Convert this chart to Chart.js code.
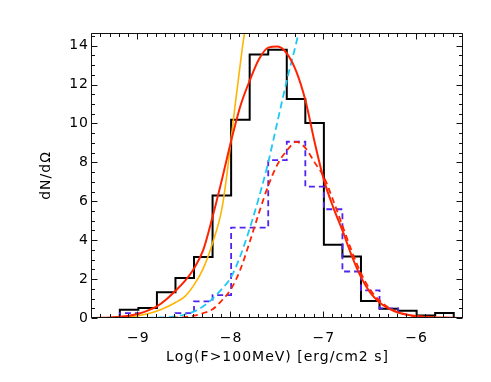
<!DOCTYPE html>
<html><head><meta charset="utf-8">
<script src="https://cdn.jsdelivr.net/npm/chart.js@4/dist/chart.umd.min.js"></script>
<style>html,body{margin:0;padding:0;background:#fff}</style>
</head><body>
<canvas id="c" width="491" height="382" style="display:block;width:491px;height:382px"></canvas>
<script>
// ---- data ----
const allEdges = [-9.2,-9.0,-8.8,-8.6,-8.4,-8.2,-8.0,-7.8,-7.6,-7.4,-7.2,-7.0,-6.8,-6.6,-6.4,-6.2,-6.0,-5.8,-5.6];
const allHist  = [0.42,0.52,1.32,2.06,3.14,6.3,10.19,13.55,13.79,11.26,10.03,3.77,3.16,0.87,0.48,0.37,0.13,0.26];
const subEdges = [-9.2,-9.0,-8.8,-8.6,-8.4,-8.2,-8.0,-7.8,-7.6,-7.4,-7.2,-7.0,-6.8,-6.6,-6.4,-6.2,-6.0];
const subHist  = [0.25,0,0,0.25,0.85,1.18,4.65,4.65,8.12,9.06,6.75,5.59,2.39,1.42,0.49,0];

const fitX = [-9.5,-9.4,-9.3,-9.2,-9.1,-9.0,-8.9,-8.8,-8.7,-8.6,-8.5,-8.4,-8.3,-8.2,-8.1,-8.0,-7.9,-7.8,-7.7,-7.6,-7.5,-7.4,-7.3,-7.2,-7.1,-7.0,-6.9,-6.8,-6.7,-6.6,-6.5,-6.4,-6.3,-6.2,-6.1,-6.0,-5.9,-5.8,-5.7,-5.6,-5.5];
const fitY = [0,0.01,0.03,0.06,0.12,0.22,0.38,0.6,0.95,1.4,1.9,2.55,3.5,5.2,7.1,9.1,10.9,12.2,13.3,13.9,13.95,13.6,12.7,11.2,9.05,7.1,5.7,4.5,3.2,2.1,1.3,0.8,0.48,0.28,0.17,0.1,0.06,0.03,0.02,0.01,0];

const subFitX = [-9.5,-9.0,-8.6,-8.5,-8.4,-8.3,-8.2,-8.1,-8.0,-7.9,-7.8,-7.7,-7.6,-7.5,-7.4,-7.3,-7.2,-7.1,-7.0,-6.9,-6.8,-6.7,-6.6,-6.5,-6.4,-6.3,-6.2,-6.1,-6.0,-5.8,-5.5];
const subFitY = [0,0,0.02,0.05,0.12,0.25,0.45,0.9,1.5,2.5,3.9,5.4,6.8,7.9,8.6,9.05,8.75,8.0,7.25,6.05,4.75,3.45,2.3,1.45,0.9,0.52,0.3,0.16,0.08,0.02,0];

const orangeX = [-9.5,-9.3,-9.1,-9.0,-8.9,-8.8,-8.7,-8.6,-8.5,-8.4,-8.3,-8.2,-8.1,-8.05,-8.0,-7.95,-7.9,-7.87,-7.83];
const orangeY = [0,0.01,0.06,0.12,0.22,0.36,0.55,0.8,1.1,1.7,2.55,3.85,5.6,7.2,9.2,11.2,13.1,14.2,15.4];

const cyanX = [-9.5,-9.0,-8.8,-8.6,-8.5,-8.4,-8.3,-8.2,-8.1,-8.0,-7.9,-7.8,-7.7,-7.6,-7.5,-7.4,-7.3,-7.25];
const cyanY = [0,0,0.02,0.08,0.18,0.34,0.6,1.0,1.5,2.1,3.2,4.6,6.2,8.0,10.1,12.2,14.1,15.1];

const xTickValues = [-9,-8,-7,-6];
const yTickValues = [0,2,4,6,8,10,12,14];
const xTitle = 'Log(F>100MeV) [erg/cm2 s]';
const yTitle = 'dN/dΩ';

// ---- helpers ----
function histPoints(edges, h){
  const pts=[{x:edges[0],y:0}];
  for(let i=0;i<h.length;i++) pts.push({x:edges[i],y:h[i]});
  pts.push({x:edges[edges.length-1],y:h[h.length-1]});
  pts.push({x:edges[edges.length-1],y:0});
  return pts;
}
function curve(xs, ys){ return xs.map((x,i)=>({x:x,y:ys[i]})); }
const fmt = v => (v<0?'\u2212':'') + Math.abs(v);
const FONT = {family:'DejaVu Sans', size:14};

const axisBox = {
  id:'axisBox',
  beforeLayout(chart){ chart.ctx.letterSpacing='1px'; },
  beforeDraw(chart){ chart.ctx.letterSpacing='1px'; },
  afterDatasetsDraw(chart){
    const {ctx, chartArea:a, scales:{x,y}} = chart;
    ctx.save();
    ctx.strokeStyle='#111'; ctx.lineWidth=1;
    const L=Math.round(a.left)-0.5, R=Math.round(a.right)-0.5, T=Math.round(a.top)+0.5, B=Math.round(a.bottom)-0.5;
    ctx.beginPath(); ctx.rect(L,T,R-L,B-T); ctx.stroke();
    ctx.beginPath();
    for(let i=-95;i<=-55;i++){
      const v=i/10, len=(i%10===0)?6:3.5, px=Math.round(x.getPixelForValue(v))-0.5;
      ctx.moveTo(px,B); ctx.lineTo(px,B-len);
      ctx.moveTo(px,T); ctx.lineTo(px,T+len);
    }
    for(let i=0;i<=29;i++){
      const v=i/2, len=(i%4===0)?6:3.5, py=Math.round(y.getPixelForValue(v))+0.5;
      ctx.moveTo(L,py); ctx.lineTo(L+len,py);
      ctx.moveTo(R,py); ctx.lineTo(R-len,py);
    }
    ctx.stroke();
    ctx.restore();
  }
};

new Chart(document.getElementById('c'), {
  type:'line',
  data:{datasets:[
    {label:'fit all', data:curve(fitX,fitY), borderColor:'#ff2400', borderWidth:2, cubicInterpolationMode:'monotone', order:0},
    {label:'fit subset', data:curve(subFitX,subFitY), borderColor:'#ff2400', borderWidth:1.8, borderDash:[6,4], cubicInterpolationMode:'monotone', order:1},
    {label:'cyan', data:curve(cyanX,cyanY), borderColor:'#1ec8f5', borderWidth:1.8, borderDash:[7,4], cubicInterpolationMode:'monotone', order:2},
    {label:'orange', data:curve(orangeX,orangeY), borderColor:'#ffb400', borderWidth:1.6, cubicInterpolationMode:'monotone', order:3},
    {label:'subset', data:histPoints(subEdges,subHist), borderColor:'#5024f0', borderWidth:1.8, borderDash:[6,4], stepped:'before', order:4},
    {label:'all', data:histPoints(allEdges,allHist), borderColor:'#000000', borderWidth:2, stepped:'before', order:5}
  ]},
  options:{
    responsive:false, animation:false, devicePixelRatio:1,
    layout:{padding:{top:33,right:28,left:0,bottom:0}},
    plugins:{legend:{display:false}, tooltip:{enabled:false}},
    elements:{point:{radius:0}, line:{fill:false}},
    scales:{
      x:{type:'linear', min:-9.5, max:-5.5,
        grid:{display:false, drawTicks:false}, border:{display:false},
        afterBuildTicks(s){ s.ticks = xTickValues.map(v=>({value:v})); },
        afterFit(s){ s.height=64; },
        ticks:{padding:12, maxRotation:0, autoSkip:false, color:'#000', font:FONT, callback:v=>fmt(v)},
        title:{display:true, text:xTitle, color:'#000', font:FONT, padding:{top:0,bottom:16}}
      },
      y:{type:'linear', min:0, max:14.65,
        grid:{display:false, drawTicks:false}, border:{display:false},
        afterBuildTicks(s){ s.ticks = yTickValues.map(v=>({value:v})); },
        afterFit(s){ s.width=92; },
        ticks:{padding:3, autoSkip:false, color:'#000', font:FONT, callback:v=>fmt(v)},
        title:{display:true, text:yTitle, color:'#000', font:FONT, padding:{top:38,bottom:0}}
      }
    }
  },
  plugins:[axisBox]
});
</script>
</body></html>
